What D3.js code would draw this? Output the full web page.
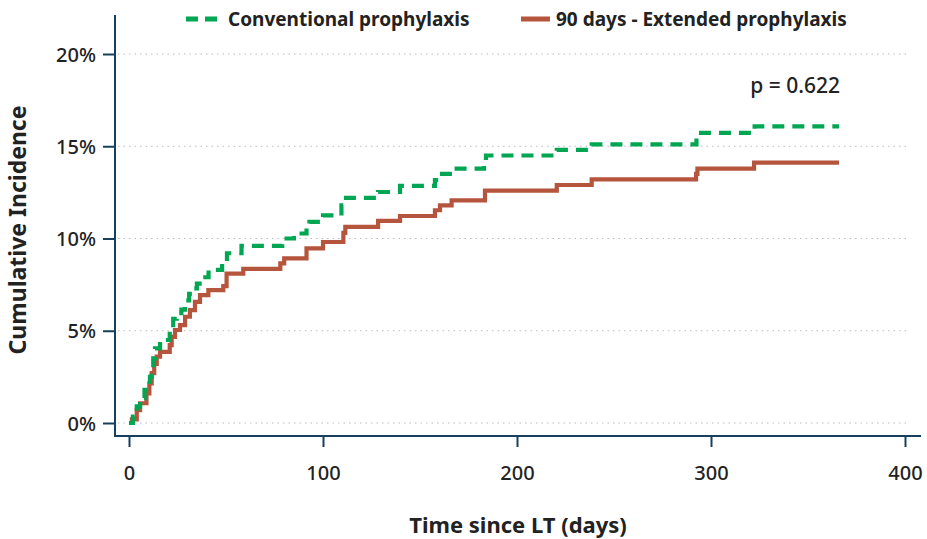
<!DOCTYPE html>
<html><head><meta charset="utf-8">
<script src="https://cdn.jsdelivr.net/npm/d3@7"></script>
<style>body{margin:0;background:#fff;} text{font-family:"Noto Sans",sans-serif;}</style>
</head><body><svg id="c" width="927" height="539"></svg>
<script>
const seriesNames = ["Conventional prophylaxis", "90 days - Extended prophylaxis"];
// [day, cumulative incidence %]
const conventional = [[0,0],[2,0.35],[4,0.9],[5.7,1.35],[8,1.8],[10,2.0],[10.8,2.5],[11.7,2.9],[12.5,3.5],[13.4,4.05],[16,4.5],[21,5.1],[22.8,5.65],[24.6,5.95],[27,6.15],[28.9,6.65],[31,7.0],[33,7.3],[35,7.55],[37.5,7.9],[41,8.3],[48,8.65],[50.5,9.2],[58,9.6],[79,10.0],[85,10.27],[91.5,10.6],[93,10.9],[100,11.25],[109.5,11.8],[110.5,12.2],[128.4,12.52],[139.7,12.85],[157.7,13.16],[160,13.5],[166.5,13.79],[183,14.2],[184,14.5],[220.5,14.8],[238.5,15.1],[292.5,15.45],[293.5,15.72],[322.5,16.08],[366,16.08]];
const extended = [[0,0],[1.5,0.2],[4,0.7],[5.7,1.07],[9,1.6],[10.5,2.15],[11.7,2.7],[13,3.2],[14.3,3.6],[16,3.86],[21,4.22],[22,4.67],[23.7,5.04],[26.3,5.31],[28.9,5.76],[31.4,6.12],[34,6.57],[36.6,6.93],[40.9,7.2],[48.6,7.42],[50.3,8.1],[58.9,8.35],[78,8.65],[80,8.92],[91.5,9.46],[100,9.81],[110.5,10.3],[111.5,10.63],[128.4,10.95],[139.7,11.22],[157.7,11.53],[160.3,11.8],[166.3,12.07],[183.5,12.6],[220.5,12.9],[238.5,13.2],[292.3,13.5],[293,13.79],[322.2,14.11],[366,14.11]];
const xTicks = [0,100,200,300,400];
const yTicks = [0,5,10,15,20];
const pText = "p = 0.622";

const svg = d3.select("#c");
const axisColor = "#16405e";
const green = "#00a651", red = "#b5553d";
const x = d3.scaleLinear().domain([0,400]).range([129,905]);
const y = d3.scaleLinear().domain([0,20]).range([423,54]);

// grid
svg.append("g").selectAll("line").data(yTicks).join("line")
  .attr("x1",118).attr("x2",910).attr("y1",d=>y(d)).attr("y2",d=>y(d))
  .attr("stroke","#b9bcc4").attr("stroke-width",1.2).attr("stroke-dasharray","1.5,4");

// axes
const yAxis = d3.axisLeft(y).tickValues(yTicks).tickFormat(d=>d+"%").tickSize(12).tickSizeOuter(0);
const gy = svg.append("g").attr("transform","translate(115,0)").call(yAxis);
gy.select(".domain").remove();
gy.append("line").attr("x1",0).attr("x2",0).attr("y1",15).attr("y2",437).attr("stroke",axisColor).attr("stroke-width",2);
gy.selectAll(".tick line").attr("stroke",axisColor).attr("stroke-width",2);
gy.selectAll(".tick text").attr("fill","#222").attr("font-size",20).attr("font-weight",500).attr("x",-19).attr("dy","0.35em");

const xAxis = d3.axisBottom(x).tickValues(xTicks).tickSize(11).tickSizeOuter(0);
const gx = svg.append("g").attr("transform","translate(0,436)").call(xAxis);
gx.select(".domain").remove();
gx.append("line").attr("x1",114).attr("x2",921).attr("y1",0).attr("y2",0).attr("stroke",axisColor).attr("stroke-width",2);
gx.selectAll(".tick line").attr("stroke",axisColor).attr("stroke-width",2);
gx.selectAll(".tick text").attr("fill","#222").attr("font-size",20).attr("font-weight",500).attr("y",30).attr("dy","0.71em");

// titles
svg.append("text").attr("x",518).attr("y",533).attr("text-anchor","middle")
  .attr("font-size",22).attr("font-weight",700).attr("fill","#222").text("Time since LT (days)");
svg.append("text").attr("transform","translate(26,230) rotate(-90)").attr("text-anchor","middle")
  .attr("font-size",23).attr("font-weight",700).attr("fill","#222").text("Cumulative Incidence");

// lines
const line = d3.line().x(d=>x(d[0])).y(d=>y(d[1])).curve(d3.curveStepAfter);
svg.append("path").datum(extended).attr("d",line).attr("fill","none")
  .attr("stroke",red).attr("stroke-width",4.2);
svg.append("path").datum(conventional).attr("d",line).attr("fill","none")
  .attr("stroke",green).attr("stroke-width",4.2).attr("stroke-dasharray","12,8");

// p value
svg.append("text").attr("x",840).attr("y",93).attr("text-anchor","end")
  .attr("font-size",21).attr("font-weight",500).attr("fill","#222").text(pText);

// legend
const lg = svg.append("g");
lg.append("line").attr("x1",186).attr("x2",222).attr("y1",19).attr("y2",19)
  .attr("stroke",green).attr("stroke-width",5).attr("stroke-dasharray","12,7");
lg.append("text").attr("x",228).attr("y",26).attr("font-size",19).attr("font-weight",700).attr("fill","#222").text(seriesNames[0]);
lg.append("line").attr("x1",521).attr("x2",550).attr("y1",19).attr("y2",19)
  .attr("stroke",red).attr("stroke-width",5);
lg.append("text").attr("x",556).attr("y",26).attr("font-size",19).attr("font-weight",700).attr("fill","#222").text(seriesNames[1]);
</script></body></html>
